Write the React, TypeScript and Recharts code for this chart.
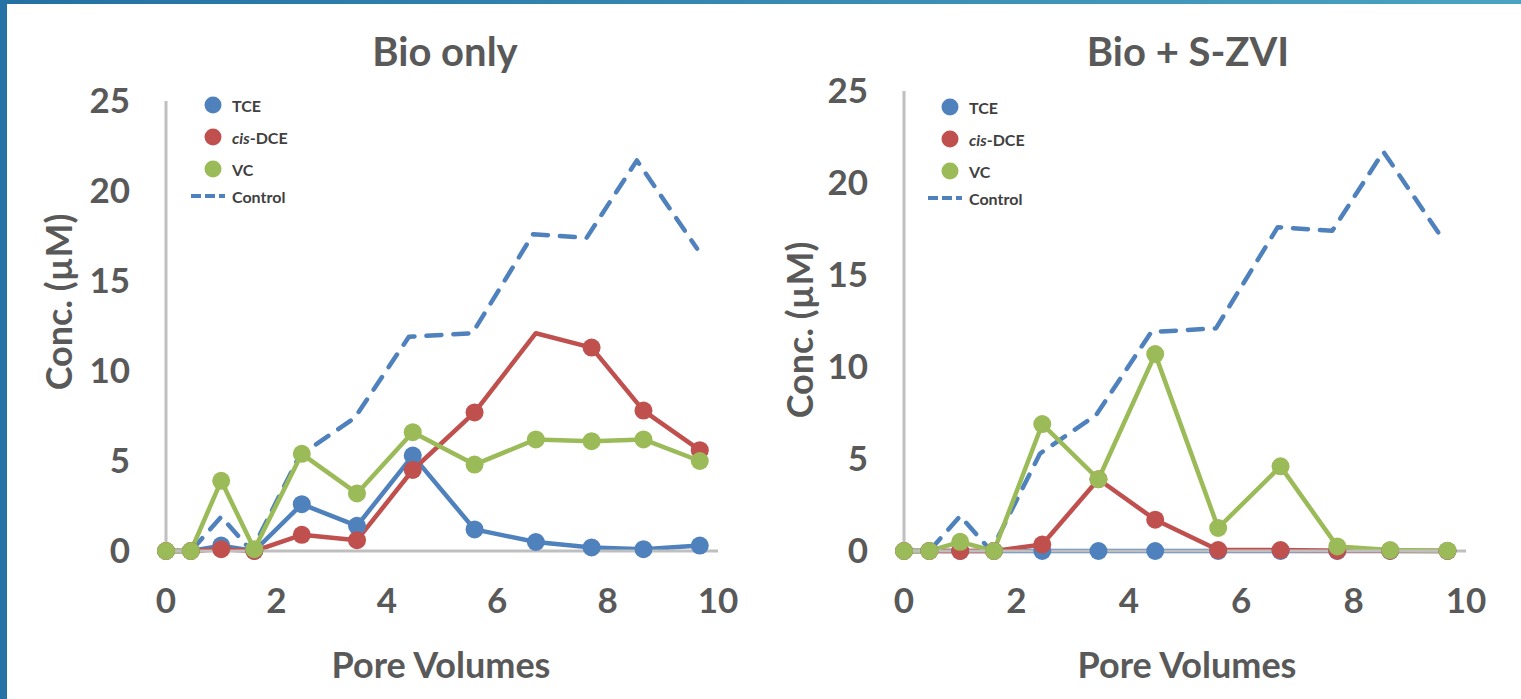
import React from 'react';
import { LineChart, Line, XAxis, YAxis, Legend, Label } from 'recharts';

// pore volumes sampled (same for both columns)
const poreVolumes = [0, 0.45, 1.0, 1.6, 2.46, 3.46, 4.47, 5.59, 6.7, 7.71, 8.65, 9.67];

// abiotic control, dashed line
const controlPoreVolumes = [0, 0.45, 1.0, 1.55, 2.42, 3.42, 4.4, 5.55, 6.65, 7.62, 8.53, 9.62];
const controlConc = [0, 0, 1.9, 0, 5.3, 7.4, 11.9, 12.1, 17.6, 17.4, 21.7, 16.8];

// Bio only (uM)
const bioTce = [0, 0, 0.3, 0, 2.6, 1.4, 5.3, 1.2, 0.5, 0.2, 0.1, 0.3];
const bioDce = [0, 0, 0.1, 0, 0.9, 0.6, 4.5, 7.7, 12.1, 11.3, 7.8, 5.6];
const bioVc = [0, 0, 3.9, 0.1, 5.4, 3.2, 6.6, 4.8, 6.2, 6.1, 6.2, 5.0];
const bioDceNoMarker = [8];

// Bio + S-ZVI (uM)
const szviTce = [0, 0, 0, 0, 0, 0, 0, 0, 0, 0, 0, 0];
const szviDce = [0, 0, 0, 0, 0.35, 3.9, 1.7, 0.05, 0.05, 0.02, 0.02, 0];
const szviVc = [0, 0, 0.5, 0, 6.9, 3.9, 10.7, 1.25, 4.6, 0.25, 0.05, 0.02];

const xTicks = [0, 2, 4, 6, 8, 10];
const yTicks = [0, 5, 10, 15, 20, 25];

const BLUE = '#4f81bd';
const RED = '#c0504d';
const GREEN = '#9bbb59';
const AXIS_GREY = '#bfbfbf';
const TEXT = '#595959';
const FONT = 'Lato, "Open Sans", sans-serif';

const tickStyle = { fontFamily: FONT, fontSize: 35, fontWeight: 700, fill: TEXT };
const titleFont = { fontFamily: FONT, fontSize: 36, fontWeight: 700, fill: TEXT };

const makeDot = (color: string, skip: number[] = []) => (props: any) => {
  const { cx, cy, index } = props;
  if (skip.includes(index) || cx == null || cy == null) return <g key={`d-${index}`} />;
  return <circle key={`d-${index}`} cx={cx} cy={cy} r={9} fill={color} stroke="none" />;
};

const LegendBox = () => (
  <svg width={170} height={112} style={{ overflow: 'visible' }}>
    <circle cx={28} cy={13} r={8.5} fill={BLUE} />
    <text x={47} y={13} dominantBaseline="central" fontFamily={FONT} fontSize={16} fontWeight={700} fill="#404040">TCE</text>
    <circle cx={28} cy={45} r={8.5} fill={RED} />
    <text x={47} y={45} dominantBaseline="central" fontFamily={FONT} fontSize={16} fontWeight={700} fill="#404040">
      <tspan fontStyle="italic">cis</tspan>-DCE
    </text>
    <circle cx={28} cy={77} r={8.5} fill={GREEN} />
    <text x={47} y={77} dominantBaseline="central" fontFamily={FONT} fontSize={16} fontWeight={700} fill="#404040">VC</text>
    <line x1={6} y1={104} x2={40} y2={104} stroke={BLUE} strokeWidth={4} strokeDasharray="10 4" />
    <text x={47} y={104} dominantBaseline="central" fontFamily={FONT} fontSize={16} fontWeight={700} fill="#404040">Control</text>
  </svg>
);

type PanelProps = {
  title: string;
  tce: number[];
  dce: number[];
  vc: number[];
  dceSkip?: number[];
  left: number;
  width: number;
  plotLeft: number;
  plotRight: number;
  plotTop: number;
  titleX: number;
  yTitleX: number;
  yTitleY: number;
  xTitleX: number;
  legendLeft: number;
  legendTop: number;
};

const Panel = (p: PanelProps) => {
  const series = poreVolumes.map((x, i) => ({ x, tce: p.tce[i], dce: p.dce[i], vc: p.vc[i] }));
  const control = controlPoreVolumes.map((x, i) => ({ x, control: controlConc[i] }));

  return (
    <div style={{ position: 'absolute', left: p.left, top: 0, width: p.width, height: 699 }}>
      <div
        style={{
          position: 'absolute',
          left: p.titleX - 200,
          width: 400,
          top: 31,
          textAlign: 'center',
          fontFamily: FONT,
          fontSize: 40,
          lineHeight: '40px',
          fontWeight: 700,
          color: TEXT,
          zIndex: 2,
        }}
      >
        {p.title}
      </div>
      <LineChart
        width={p.width}
        height={699}
        margin={{ top: p.plotTop, right: p.width - p.plotRight, bottom: 0, left: 0 }}
      >
        <XAxis
          type="number"
          dataKey="x"
          domain={[0, 10]}
          ticks={xTicks}
          interval={0}
          height={148}
          tickSize={0}
          tickMargin={37}
          tickLine={false}
          tick={tickStyle}
          axisLine={{ stroke: AXIS_GREY, strokeWidth: 3 }}
        >
          <Label
            content={() => (
              <text x={p.xTitleX} y={678} textAnchor="middle" style={titleFont}>
                Pore Volumes
              </text>
            )}
          />
        </XAxis>
        <YAxis
          type="number"
          domain={[0, 25]}
          ticks={yTicks}
          interval={0}
          width={p.plotLeft}
          tickSize={0}
          tickMargin={36}
          tickLine={false}
          tick={tickStyle}
          axisLine={{ stroke: AXIS_GREY, strokeWidth: 3 }}
        >
          <Label
            content={() => (
              <text
                x={p.yTitleX}
                y={p.yTitleY}
                transform={`rotate(-90 ${p.yTitleX} ${p.yTitleY})`}
                textAnchor="middle"
                style={titleFont}
              >
                Conc. (µM)
              </text>
            )}
          />
        </YAxis>
        <Legend
          layout="vertical"
          align="center"
          verticalAlign="middle"
          wrapperStyle={{ left: p.legendLeft, top: p.legendTop, width: 170, height: 112 }}
          content={() => <LegendBox />}
        />
        <Line
          data={control}
          dataKey="control"
          name="Control"
          stroke={BLUE}
          strokeWidth={4.5}
          strokeDasharray="15 12"
          strokeLinecap="round"
          strokeLinejoin="round"
          dot={false}
          activeDot={false}
          isAnimationActive={false}
        />
        <Line
          data={series}
          dataKey="tce"
          name="TCE"
          stroke={BLUE}
          strokeWidth={4.5}
          strokeLinejoin="round"
          dot={makeDot(BLUE)}
          activeDot={false}
          isAnimationActive={false}
        />
        <Line
          data={series}
          dataKey="dce"
          name="cis-DCE"
          stroke={RED}
          strokeWidth={4.5}
          strokeLinejoin="round"
          dot={makeDot(RED, p.dceSkip)}
          activeDot={false}
          isAnimationActive={false}
        />
        <Line
          data={series}
          dataKey="vc"
          name="VC"
          stroke={GREEN}
          strokeWidth={4.5}
          strokeLinejoin="round"
          dot={makeDot(GREEN)}
          activeDot={false}
          isAnimationActive={false}
        />
      </LineChart>
    </div>
  );
};

export default function App() {
  return (
    <div
      style={{
        position: 'fixed',
        left: 0,
        top: 0,
        width: 1521,
        height: 699,
        background: '#ffffff',
        overflow: 'hidden',
      }}
    >
      <Panel
        title="Bio only"
        tce={bioTce}
        dce={bioDce}
        vc={bioVc}
        dceSkip={bioDceNoMarker}
        left={0}
        width={760}
        plotLeft={166}
        plotRight={718}
        plotTop={101}
        titleX={445}
        yTitleX={72}
        yTitleY={302}
        xTitleX={441}
        legendLeft={185}
        legendTop={92}
      />
      <Panel
        title="Bio + S-ZVI"
        tce={szviTce}
        dce={szviDce}
        vc={szviVc}
        left={760}
        width={761}
        plotLeft={144}
        plotRight={706}
        plotTop={91}
        titleX={428}
        yTitleX={53}
        yTitleY={330}
        xTitleX={427}
        legendLeft={162}
        legendTop={94}
      />
      {/* slide frame */}
      <div style={{ position: 'absolute', left: 0, top: 0, width: 1521, height: 4, background: 'linear-gradient(90deg, #2470a3, #4aa3c2)' }} />
      <div style={{ position: 'absolute', left: 0, top: 0, width: 7, height: 699, background: '#2671a6' }} />
    </div>
  );
}
